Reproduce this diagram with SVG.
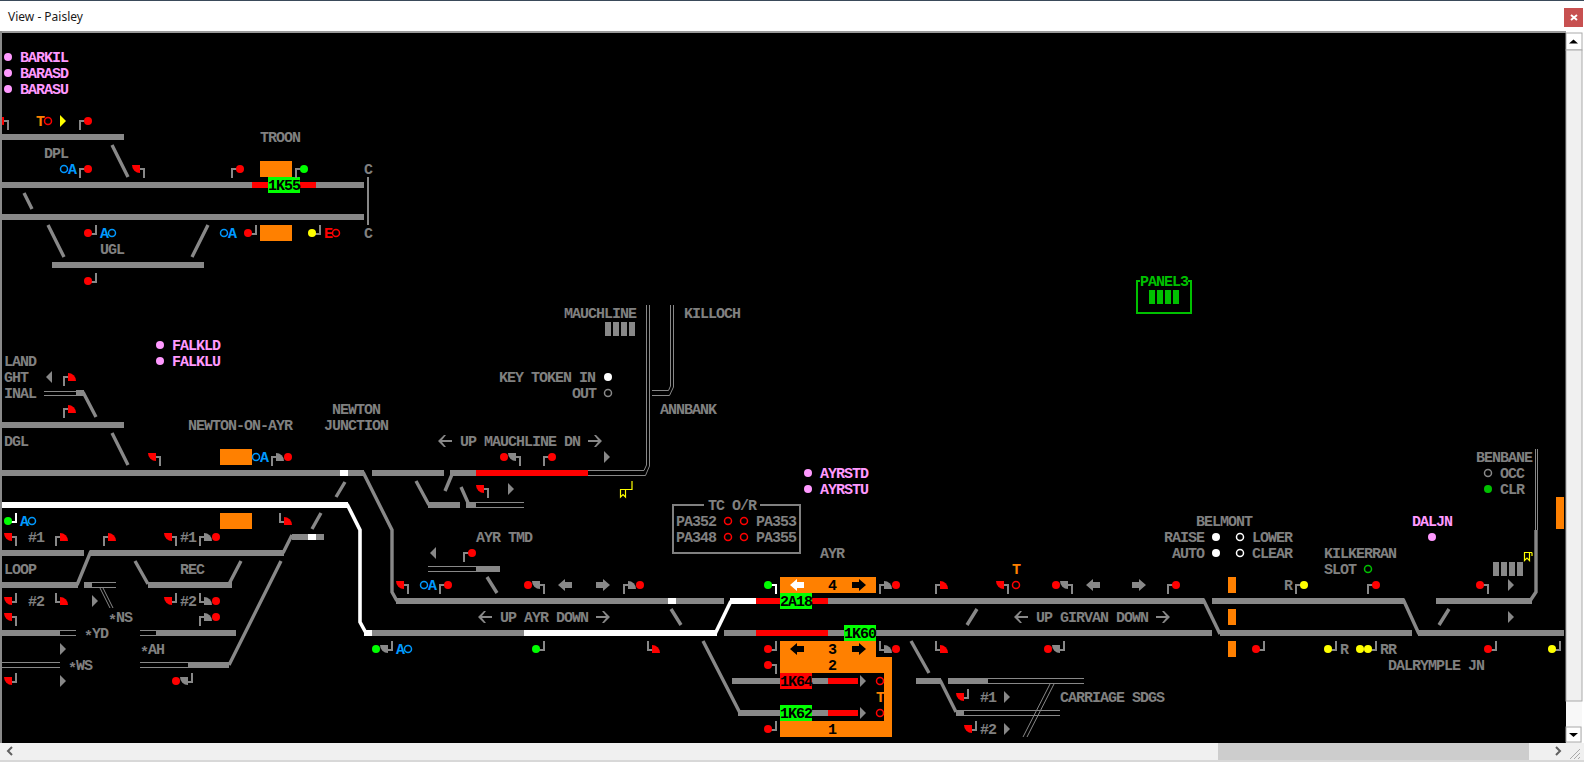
<svg xmlns="http://www.w3.org/2000/svg" width="1584" height="762" viewBox="0 0 1584 762">
<style>
text{font-family:"Liberation Mono",monospace;font-size:15px;font-weight:bold;letter-spacing:-1px;fill:#808080;white-space:pre}
.pk{fill:#ff99ff}.bl{fill:#0099ff}.or{fill:#ff8000}.rd{fill:#ff0000}.gr{fill:#00c000}.bk{fill:#000}
.tk{fill:#888}.w{fill:#fff}.red{fill:#f00}.grn{fill:#0f0}.org{fill:#ff8000}.yel{fill:#ff0}.pnk{fill:#ff99ff}
.p{fill:none;stroke:#888;stroke-width:2}.pw{fill:none;stroke:#fff;stroke-width:2}
.sl{fill:none;stroke:#888;stroke-width:3.4}.slw{fill:none;stroke:#fff;stroke-width:3.6}
.dbl{fill:none;stroke:#888;stroke-width:1}
.o{fill:none;stroke-width:1.5}.ored{stroke:#f00}.owh{stroke:#fff}.ogy{stroke:#888}.ogn{stroke:#00c000}.obl{stroke:#0099ff}
.flag{fill:none;stroke:#ff0;stroke-width:1.2}
</style>
<defs>
<path id="ur" class="p" d="M0 9V0H5"/><path id="ul" class="p" d="M0 9V0H-5"/>
<path id="dl" class="p" d="M0 -8V1H-5"/><path id="dr" class="p" d="M0 -8V1H5"/>
<path id="qr" d="M4 4V-4A8 8 0 0 1 12 4Z"/><path id="ql" d="M-4 -4H-12A8 8 0 0 0 -4 4Z"/>
<circle id="d" r="4"/>
<g id="A"><use href="#ur"/><use href="#d" x="8" class="red"/></g>
<g id="B"><use href="#ul"/><use href="#d" x="-8" class="red"/></g>
<g id="C"><use href="#dl"/><use href="#d" x="-8" class="red"/></g>
<g id="D"><use href="#ur"/><use href="#qr" class="red"/></g>
<g id="E"><use href="#ul"/><use href="#ql" class="red"/></g>
<g id="F"><use href="#dl"/><use href="#ql" class="red"/></g>
<g id="G"><use href="#dr"/><use href="#qr" class="red"/></g>
<g id="H"><use href="#ur"/><use href="#qr" class="tk"/><use href="#d" x="16" class="red"/></g>
<g id="I"><use href="#ul"/><use href="#ql" class="tk"/><use href="#d" x="-16" class="red"/></g>
<g id="J"><use href="#dl"/><use href="#ql" class="tk"/><use href="#d" x="-16" class="red"/></g>
<g id="K"><use href="#dr"/><use href="#qr" class="tk"/><use href="#d" x="16" class="red"/></g>
<path id="tr" d="M0 -6L6 0L0 6Z"/><path id="tl" d="M6 -6L0 0L6 6Z"/>
<path id="al" d="M0 0L6 -6H8L4 -1H14V1H4L8 6H6Z"/><path id="ar" d="M14 0L8 -6H6L10 -1H0V1H10L6 6H8Z"/>
<path id="bl" d="M0 0L7 -6V-3H14V3H7V6Z"/><path id="br" d="M14 0L7 -6V-3H0V3H7V6Z"/>
<g id="bars"><rect width="6" height="14"/><rect x="8" width="6" height="14"/><rect x="16" width="6" height="14"/><rect x="24" width="6" height="14"/></g>
</defs>
<rect width="1584" height="762" fill="#fff"/>
<rect x="2" y="32" width="1564" height="711" fill="#000"/>

<g id="connectors">
<rect class="tk" x="2" y="134" width="122" height="6"/>
<rect class="tk" x="2" y="182" width="362" height="6"/>
<rect class="red" x="252" y="182" width="64" height="6"/>
<rect class="tk" x="2" y="214" width="362" height="6"/>
<rect class="tk" x="52" y="262" width="152" height="6"/>
<path class="sl" d="M112 145L128 177M24 193L32 209M48 225L64 257M208 225L192 257"/>
<path class="p" d="M368 177V225"/>
<rect class="tk" x="76" y="390" width="8" height="6"/>
<path class="dbl" d="M44 391.500H76M44 395.500H76"/>
<path class="sl" d="M83 392L96 417M112 433L128 465M345 482L336 497M321 513L312 529"/>
<rect class="tk" x="2" y="422" width="122" height="6"/>
<rect class="tk" x="2" y="470" width="362" height="6"/>
<rect class="w" x="340" y="470" width="8" height="6"/>
<rect class="tk" x="372" y="470" width="72" height="6"/>
<path class="sl" d="M363 472L392 530V592L397 601"/>
<path class="sl" d="M453 472L445 491"/>
<rect class="tk" x="450" y="470" width="26" height="6"/>
<rect class="red" x="476" y="470" width="112" height="6"/>
<path class="dbl" d="M588 470.500H644L646.500 465V305M588 475.500H645.500L649.500 466V305"/>
<path class="dbl" d="M652 390.500H668.500L670.500 386V305M652 395.500H669.500L673.500 387V305"/>
<path class="sl" d="M416 481L429 505M461 487L469 505"/>
<rect class="tk" x="428" y="502" width="32" height="6"/>
<rect class="tk" x="466" y="502" width="10" height="6"/>
<path class="dbl" d="M476 502.500H524M476 507.500H524"/>
<rect class="w" x="2" y="502" width="346" height="6"/>
<path class="slw" d="M347 504L360 530V622L366 633"/>
<rect class="w" x="364" y="630" width="8" height="6"/>
<rect class="tk" x="372" y="630" width="152" height="6"/>
<rect class="w" x="524" y="630" width="193" height="6"/>
<path class="slw" d="M715 634L731 601"/>
<rect class="w" x="730" y="598" width="26" height="6"/>
<rect class="tk" x="396" y="598" width="328" height="6"/>
<rect class="w" x="668" y="598" width="8" height="6"/>
<rect class="tk" x="812" y="598" width="392" height="6"/>
<rect class="red" x="756" y="598" width="72" height="6"/>
<rect class="tk" x="724" y="630" width="488" height="6"/>
<rect class="red" x="756" y="630" width="72" height="6"/>
<path class="sl" d="M671 609L681 625M977 609L967 625M703 641L740 713M911 641L929 673M487 577L497 593"/>
<path class="dbl" d="M428 566.500H476M428 571.500H476"/>
<rect class="tk" x="476" y="566" width="24" height="6"/>
<rect class="tk" x="732" y="678" width="126" height="6"/>
<rect class="red" x="828" y="678" width="30" height="6"/>
<rect class="tk" x="738" y="710" width="120" height="6"/>
<rect class="red" x="828" y="710" width="30" height="6"/>
<rect class="tk" x="916" y="678" width="25" height="6"/>
<rect class="tk" x="948" y="678" width="40" height="6"/>
<path class="sl" d="M940 680L956 712"/>
<rect class="tk" x="956" y="710" width="8" height="6"/>
<path class="dbl" d="M988 678.500H1084M988 683.500H1084M964 710.500H1060M964 715.500H1060M1050 684L1023 737M1054 684L1027 737"/>
<path class="sl" d="M1203 599L1220 634"/>
<rect class="tk" x="1212" y="598" width="192" height="6"/>
<rect class="tk" x="1220" y="630" width="192" height="6"/>
<path class="sl" d="M1403 599L1419 634M1449 609L1439 625"/>
<rect class="tk" x="1418" y="630" width="146" height="6"/>
<rect class="tk" x="1436" y="598" width="96" height="6"/>
<path class="sl" d="M1530 601L1536 592V530"/>
<path class="dbl" d="M1535.500 449V530M1537.500 449V530"/>
<rect class="tk" x="2" y="550" width="82" height="6"/>
<rect class="tk" x="90" y="550" width="194" height="6"/>
<path class="sl" d="M91 551L77 585M135 561L148 584M241 561L229 584M281 561L229 665M292 535L283 553"/>
<rect class="tk" x="292" y="534" width="32" height="6"/>
<rect class="w" x="308" y="534" width="8" height="6"/>
<rect class="tk" x="2" y="582" width="76" height="6"/>
<rect class="tk" x="148" y="582" width="84" height="6"/>
<rect class="tk" x="84" y="582" width="8" height="6"/>
<path class="dbl" d="M92 582.500H116M92 587.500H116M100 588L110 608M103 588L113 608"/>
<rect class="tk" x="2" y="630" width="58" height="6"/>
<path class="dbl" d="M60 630.500H76M60 635.500H76M140 630.500H156M140 635.500H156"/>
<rect class="tk" x="156" y="630" width="80" height="6"/>
<path class="dbl" d="M2 662.500H60M2 667.500H60M140 662.500H188M140 667.500H188"/>
<rect class="tk" x="188" y="662" width="41" height="6"/>
</g>

<g id="platforms">
<rect class="org" x="260" y="161" width="32" height="16"/>
<rect class="org" x="260" y="225" width="32" height="16"/>
<rect class="org" x="220" y="449" width="32" height="16"/>
<rect class="org" x="220" y="513" width="32" height="16"/>
<rect class="org" x="1228" y="577" width="8" height="16"/>
<rect class="org" x="1228" y="609" width="8" height="16"/>
<rect class="org" x="1228" y="641" width="8" height="16"/>
<rect class="org" x="1556" y="497" width="8" height="32"/>
<rect class="org" x="780" y="577" width="96" height="16"/>
<path class="org" fill-rule="evenodd" d="M780 641H876V657H892V737H780ZM780 673V721H884V673Z"/>
</g>

<g id="berths">
<g id="b1K55"><rect class="grn" x="268" y="177" width="32" height="16"/><text class="bk" x="268" y="190">1K55</text></g>
<g id="b2A18"><rect class="grn" x="780" y="593" width="32" height="16"/><text class="bk" x="780" y="606">2A18</text></g>
<g id="b1K60"><rect class="grn" x="844" y="625" width="32" height="16"/><text class="bk" x="844" y="638">1K60</text></g>
<g id="b1K64"><rect class="red" x="780" y="673" width="32" height="16"/><text class="bk" x="780" y="686">1K64</text></g>
<g id="b1K62"><rect class="grn" x="780" y="705" width="32" height="16"/><text class="bk" x="780" y="718">1K62</text></g>
</g>

<g id="signals">
<use href="#E" x="8" y="121"/><use href="#A" x="80" y="121"/>
<use href="#A" x="80" y="169"/><use href="#E" x="144" y="169"/>
<use href="#A" x="232" y="169"/>
<use href="#ur" x="296" y="169"/><use href="#d" x="304" y="169" class="grn"/>
<use href="#C" x="96" y="233"/><use href="#C" x="256" y="233"/>
<use href="#dl" x="320" y="233"/><use href="#d" x="312" y="233" class="yel"/>
<use href="#C" x="96" y="281"/>
<use href="#D" x="64" y="377"/><use href="#D" x="64" y="409"/>
<use href="#E" x="160" y="457"/><use href="#H" x="272" y="457"/>
<use href="#I" x="520" y="457"/><use href="#A" x="544" y="457"/>
<use href="#E" x="488" y="489"/>
<path class="pw" d="M16 513V522H11"/><use href="#d" x="8" y="521" class="grn"/>
<use href="#G" x="280" y="521"/>
<use href="#E" x="16" y="537"/><use href="#D" x="56" y="537"/><use href="#D" x="104" y="537"/><use href="#E" x="176" y="537"/><use href="#H" x="200" y="537"/>
<use href="#F" x="16" y="601"/><use href="#G" x="56" y="601"/><use href="#F" x="176" y="601"/><use href="#K" x="200" y="601"/>
<use href="#E" x="16" y="617"/><use href="#H" x="200" y="617"/>
<use href="#F" x="16" y="681"/><use href="#J" x="192" y="681"/>
<use href="#A" x="464" y="553"/>
<use href="#E" x="408" y="585"/><use href="#A" x="440" y="585"/><use href="#I" x="544" y="585"/><use href="#H" x="624" y="585"/>
<use href="#dl" x="392" y="649"/><use href="#ql" x="392" y="649" class="tk"/><use href="#d" x="376" y="649" class="grn"/>
<use href="#dl" x="544" y="649"/><use href="#d" x="536" y="649" class="grn"/>
<use href="#G" x="648" y="649"/>
<path class="pw" d="M776 594V585H771"/><use href="#d" x="768" y="585" class="grn"/>
<use href="#H" x="880" y="585"/><use href="#D" x="936" y="585"/><use href="#E" x="1008" y="585"/>
<use href="#I" x="1072" y="585"/><use href="#A" x="1168" y="585"/>
<use href="#ur" x="1296" y="585"/><use href="#d" x="1304" y="585" class="yel"/>
<use href="#A" x="1368" y="585"/><use href="#B" x="1488" y="585"/>
<use href="#C" x="776" y="649"/><use href="#B" x="776" y="665"/><use href="#C" x="776" y="729"/>
<use href="#K" x="880" y="649"/><use href="#G" x="936" y="649"/><use href="#J" x="1064" y="649"/>
<use href="#C" x="1264" y="649"/>
<use href="#dl" x="1336" y="649"/><use href="#d" x="1328" y="649" class="yel"/>
<use href="#dl" x="1376" y="649"/><use href="#d" x="1360" y="649" class="yel"/><use href="#d" x="1368" y="649" class="yel"/>
<use href="#C" x="1496" y="649"/>
<use href="#dl" x="1560" y="649"/><use href="#d" x="1552" y="649" class="yel"/>
<use href="#F" x="968" y="697"/><use href="#F" x="976" y="729"/>
<path class="flag" d="M632 481V489.500H620.500V497L623 494.500L625.500 497V490"/>
<path class="flag" d="M1532 552.500H1524.500V560.500L1527 558L1529.500 560.500V553M1532 552.500V556"/>
</g>

<g id="markers">
<use href="#tr" x="60" y="121" class="yel"/>
<use href="#tl" x="46" y="377" class="tk"/>
<use href="#tr" x="604" y="457" class="tk"/><use href="#tr" x="508" y="489" class="tk"/>
<use href="#tl" x="430" y="553" class="tk"/>
<use href="#tr" x="92" y="601" class="tk"/><use href="#tr" x="60" y="649" class="tk"/><use href="#tr" x="60" y="681" class="tk"/>
<use href="#tr" x="860" y="681" class="tk"/><use href="#tr" x="860" y="713" class="tk"/>
<use href="#tr" x="1004" y="697" class="tk"/><use href="#tr" x="1004" y="729" class="tk"/>
<use href="#tr" x="1508" y="585" class="tk"/><use href="#tr" x="1508" y="617" class="tk"/>
<use href="#al" x="438" y="441" class="tk"/><use href="#ar" x="588" y="441" class="tk"/>
<use href="#al" x="478" y="617" class="tk"/><use href="#ar" x="596" y="617" class="tk"/>
<use href="#al" x="1014" y="617" class="tk"/><use href="#ar" x="1156" y="617" class="tk"/>
<use href="#bl" x="558" y="585" class="tk"/><use href="#br" x="596" y="585" class="tk"/>
<use href="#bl" x="1086" y="585" class="tk"/><use href="#br" x="1132" y="585" class="tk"/>
<use href="#bl" x="790" y="585" class="w"/><use href="#br" x="852" y="585" class="bk"/>
<use href="#bl" x="790" y="649" class="bk"/><use href="#br" x="852" y="649" class="bk"/>
</g>

<g id="indicators">
<use href="#d" x="8" y="57" class="pnk"/><use href="#d" x="8" y="73" class="pnk"/><use href="#d" x="8" y="89" class="pnk"/>
<use href="#d" x="160" y="345" class="pnk"/><use href="#d" x="160" y="361" class="pnk"/>
<use href="#d" x="808" y="473" class="pnk"/><use href="#d" x="808" y="489" class="pnk"/>
<use href="#d" x="1432" y="537" class="pnk"/>
<use href="#d" x="608" y="377" class="w"/><circle class="o ogy" cx="608" cy="393" r="3.500"/>
<circle class="o ored" cx="48" cy="121" r="3.500"/>
<circle class="o obl" cx="64" cy="169" r="3.500"/>
<circle class="o obl" cx="112" cy="233" r="3.500"/>
<circle class="o obl" cx="224" cy="233" r="3.500"/>
<circle class="o ored" cx="336" cy="233" r="3.500"/>
<circle class="o obl" cx="256" cy="457" r="3.500"/>
<circle class="o obl" cx="32" cy="521" r="3.500"/>
<circle class="o obl" cx="424" cy="585" r="3.500"/>
<circle class="o obl" cx="408" cy="649" r="3.500"/>
<circle class="o ored" cx="728" cy="521" r="3.500"/><circle class="o ored" cx="744" cy="521" r="3.500"/>
<circle class="o ored" cx="728" cy="537" r="3.500"/><circle class="o ored" cx="744" cy="537" r="3.500"/>
<circle class="o ored" cx="1016" cy="585" r="3.500"/>
<circle class="o ored" cx="880" cy="681" r="3.500"/><circle class="o ored" cx="880" cy="713" r="3.500"/>
<use href="#d" x="1216" y="537" class="w"/><use href="#d" x="1216" y="553" class="w"/>
<circle class="o owh" cx="1240" cy="537" r="3.500"/><circle class="o owh" cx="1240" cy="553" r="3.500"/>
<circle class="o ogn" cx="1368" cy="569" r="3.500"/>
<circle class="o ogy" cx="1488" cy="473" r="3.500"/><use href="#d" x="1488" y="489" class="gr"/>
<use href="#bars" x="605" y="322" class="tk"/>
<use href="#bars" x="1493" y="562" class="tk"/>
<use href="#bars" x="1149" y="290" class="gr"/>
<path fill="none" stroke="#00c000" stroke-width="2" d="M1140 281H1137V313H1191V281H1188"/>
<path fill="none" stroke="#808080" stroke-width="2" d="M704 505H673V553H800V505H760"/>
</g>

<g id="labels">
<text class="pk" x="20" y="62">BARKIL</text><text class="pk" x="20" y="78">BARASD</text><text class="pk" x="20" y="94">BARASU</text>
<text class="or" x="36" y="126">T</text>
<text x="260" y="142">TROON</text><text x="44" y="158">DPL</text>
<text class="bl" x="68" y="174">A</text><text x="364" y="174">C</text><text x="364" y="238">C</text>
<text class="bl" x="100" y="238">A</text><text class="bl" x="228" y="238">A</text><text class="rd" x="324" y="238">E</text>
<text x="100" y="254">UGL</text>
<text class="pk" x="172" y="350">FALKLD</text><text class="pk" x="172" y="366">FALKLU</text>
<text x="4" y="366">LAND</text><text x="4" y="382">GHT</text><text x="4" y="398">INAL</text><text x="4" y="446">DGL</text>
<text x="188" y="430">NEWTON-ON-AYR</text><text x="332" y="414">NEWTON</text><text x="324" y="430">JUNCTION</text>
<text class="bl" x="260" y="462">A</text><text class="bl" x="20" y="526">A</text>
<text x="28" y="542">#1</text><text x="180" y="542">#1</text><text x="28" y="606">#2</text><text x="180" y="606">#2</text>
<text x="4" y="574">LOOP</text><text x="180" y="574">REC</text>
<text x="108" y="622"><tspan dy="3">*</tspan><tspan dy="-3">NS</tspan></text><text x="84" y="638"><tspan dy="3">*</tspan><tspan dy="-3">YD</tspan></text><text x="140" y="654"><tspan dy="3">*</tspan><tspan dy="-3">AH</tspan></text><text x="68" y="670"><tspan dy="3">*</tspan><tspan dy="-3">WS</tspan></text>
<text x="564" y="318">MAUCHLINE</text><text x="684" y="318">KILLOCH</text>
<text x="499" y="382">KEY TOKEN IN</text><text x="572" y="398">OUT</text>
<text x="660" y="414">ANNBANK</text><text x="460" y="446">UP MAUCHLINE DN</text>
<text x="708" y="510">TC O/R</text>
<text x="676" y="526">PA352</text><text x="756" y="526">PA353</text><text x="676" y="542">PA348</text><text x="756" y="542">PA355</text>
<text x="476" y="542">AYR TMD</text><text x="820" y="558">AYR</text>
<text class="bl" x="428" y="590">A</text><text class="bl" x="396" y="654">A</text>
<text x="500" y="622">UP AYR DOWN</text>
<text class="pk" x="820" y="478">AYRSTD</text><text class="pk" x="820" y="494">AYRSTU</text>
<text class="bk" x="828" y="590">4</text><text class="bk" x="828" y="654">3</text><text class="bk" x="828" y="670">2</text><text class="bk" x="828" y="734">1</text>
<text class="or" x="876" y="702">T</text><text class="or" x="1012" y="574">T</text>
<text x="1036" y="622">UP GIRVAN DOWN</text>
<text x="980" y="702">#1</text><text x="980" y="734">#2</text><text x="1060" y="702">CARRIAGE SDGS</text>
<text x="1196" y="526">BELMONT</text><text x="1164" y="542">RAISE</text><text x="1252" y="542">LOWER</text><text x="1172" y="558">AUTO</text><text x="1252" y="558">CLEAR</text>
<text x="1284" y="590">R</text><text x="1324" y="558">KILKERRAN</text><text x="1324" y="574">SLOT</text>
<text class="pk" x="1412" y="526">DALJN</text>
<text x="1476" y="462">BENBANE</text><text x="1500" y="478">OCC</text><text x="1500" y="494">CLR</text>
<text x="1340" y="654">R</text><text x="1380" y="654">RR</text><text x="1388" y="670">DALRYMPLE JN</text>
<text class="gr" x="1140" y="286">PANEL3</text>
</g>

<g id="window">
<rect x="0" y="0" width="1584" height="1" fill="#3a4a5a"/>
<rect x="0" y="31" width="1566" height="2" fill="#9a9a9a"/>
<rect x="0" y="31" width="2" height="731" fill="#8a8a8a"/>
<text x="8" y="21" style="font-family:'Noto Sans',sans-serif;font-size:12px;font-weight:normal;letter-spacing:0;fill:#1a1a1a">View - Paisley</text>
<rect x="1564" y="8" width="19" height="19" fill="#c75050"/>
<path d="M1571 15L1577 20M1577 15L1571 20" stroke="#fff" stroke-width="2" fill="none"/>
<rect x="1566" y="33" width="16" height="710" fill="#f0f0f0"/>
<rect x="1566" y="701" width="16" height="26" fill="#f8f8f8"/>
<rect x="1566" y="33" width="16" height="17" fill="#fff" stroke="#aaa"/>
<path d="M1569 43.500H1578L1573.500 39.500Z" fill="#000"/>
<rect x="1566" y="50" width="16" height="651" fill="#f0f0f0" stroke="#aaa"/>
<rect x="1566" y="727" width="15" height="15" fill="#fff" stroke="#aaa"/>
<path d="M1569 733H1578L1573.500 737Z" fill="#000"/>
<rect x="0" y="743" width="1584" height="17" fill="#f0f0f0"/>
<rect x="0" y="760" width="1584" height="2" fill="#d8d8d8"/>
<rect x="1218" y="743" width="311" height="17" fill="#cdcdcd"/>
<path d="M12 747L8 751L12 755M1556 747L1560 751L1556 755" fill="none" stroke="#606060" stroke-width="2"/>
<path d="M1570 759L1580 749M1574 759L1580 753M1578 759L1580 757" stroke="#aaa" fill="none"/>
</g>
</svg>
